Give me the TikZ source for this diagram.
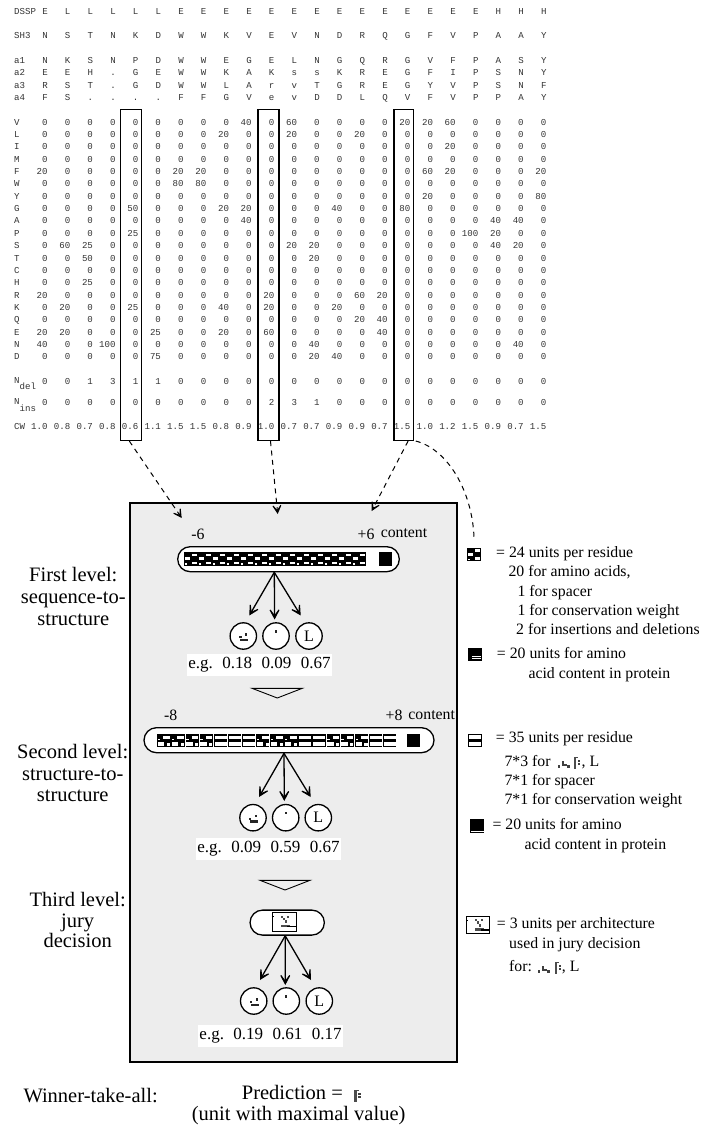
\documentclass[tikz,border=0pt]{standalone}
\usepackage{fontspec}
\setmainfont{Liberation Serif}
\newfontfamily\monof{Liberation Mono}
\usetikzlibrary{arrows.meta,shapes.misc}
\tikzset{
  mono/.style={font=\monof\fontsize{9.1}{10}\selectfont,text=black!80,inner sep=0pt,text height=6.5pt,text depth=2pt},
  lab/.style={font=\fontsize{15.8}{18}\selectfont,inner sep=0pt,anchor=west,text height=11pt,text depth=3.5pt},
  biglab/.style={font=\fontsize{20.5}{23}\selectfont,inner sep=0pt,text height=14pt,text depth=4.5pt},
  egbox/.style={font=\fontsize{17}{20}\selectfont,fill=white,inner sep=0pt,minimum width=145pt,minimum height=21.7pt,text height=11.5pt,text depth=4pt},
  colbox/.style={draw,line width=1.1pt,inner sep=0pt,minimum height=331pt},
  stadium/.style={rounded rectangle,draw,line width=1.3pt,fill=white,inner sep=0pt,minimum height=25pt},
  outcirc/.style={circle,draw,line width=1.3pt,fill=white,inner sep=0pt,minimum size=26.4pt,font=\fontsize{16}{18}\selectfont},
  netarrow/.style={line width=1.3pt,-{Stealth[length=16pt,width=17pt,inset=11.5pt]}},
  dasharrow/.style={line width=1pt,dash pattern=on 5pt off 4.5pt},
  dashhead/.style={-{Stealth[length=14pt,width=15pt,inset=10pt]}},
  pics/cella/.style={code={
    \fill[black] (0,0) rectangle (13.4,13.4);
    \fill[white] (7.5,1.4) rectangle (12.8,4);
    \fill[white] (0.8,5) rectangle (5.8,7.8);
    \fill[white] (7.5,9.4) rectangle (12.8,12);
    \fill[white] (0.8,10.8) rectangle (3,12.4);
  }},
  pics/cellb/.style={code={
    \fill[black] (0,0) rectangle (13.4,13);
    \fill[white] (0.8,1.2) rectangle (12.8,4.6);
    \fill[white] (0.8,7.6) rectangle (12.8,11.6);
  }},
  pics/cellc/.style={code={
    \fill[black] (0,0) rectangle (13.4,13);
    \fill[white] (6,1.2) rectangle (12.8,4.6);
    \fill[white] (0.8,7.6) rectangle (7,11.6);
    \fill[white] (0.8,4.6) rectangle (3,6);
    \fill[white] (9.5,9) rectangle (12.8,11.6);
  }},
  pics/helixin/.style={code={
    \fill[black!85] (-4,-0.2) rectangle (-1.7,2);
    \fill[black!85] (1.8,-2.6) rectangle (3.8,-0.4);
    \fill[black!85] (-3,2.6) rectangle (5,4.8);
  }},
  pics/strandin/.style={code={
    \fill[black!85] (-1.1,-5.6) rectangle (1.1,-3.4);
  }},
  pics/helixsm/.style={code={
    \fill[black!75] (-6,2) rectangle (-3.6,4.6);
    \fill[black!75] (-2.2,-2) rectangle (0.2,3.2);
    \fill[black!75] (0.2,0.6) rectangle (2.8,3.2);
    \fill[black!75] (3,2.4) rectangle (5.6,4.8);
  }},
  pics/strandsm/.style={code={
    \fill[black!70] (-3.2,-6) rectangle (-0.8,6);
    \fill[black!70] (-0.8,-6) rectangle (1,-4.6);
    \fill[black!75] (0.8,-3.5) rectangle (3,-1.3);
    \fill[black!75] (0.8,0) rectangle (3,2.2);
  }},
  pics/juryicon/.style={code={
    \fill[black!70] (9,3.5) rectangle (11,5.5);
    \fill[black!70] (11,5.5) rectangle (13,8);
    \fill[black!70] (15.5,3.5) rectangle (17.5,5.5);
    \fill[black!70] (13,8) rectangle (15,11);
    \fill[black!70] (9,12.5) rectangle (18,15);
    \fill[black] (15,13.5) rectangle (24,15);
    \fill[black] (0,4) rectangle (2,4.8);
  }}
}
\newcommand\srow[3]{%
  \node[mono,anchor=west] (lbl#1) at (14,#2) {#1};
  \foreach \val [count=\ci from 0] in {#3} {
    \node[mono] (s#1-\ci) at ({45+22.67*\ci},#2) {\val};
  }}
\newcommand\mrow[3]{%
  \foreach \val [count=\ci from 0] in {#3} {
    \node[mono,anchor=east] (m#1-\ci) at ({47.8+22.67*\ci},#2) {\val};
  }}
\newcommand\nrow[3]{%
  \node[mono,anchor=west] (lbl#1) at (14,#2) {#1};
  \mrow{#1}{#2}{#3}}
\begin{document}
\begin{tikzpicture}[x=1pt,y=-1pt]
\useasboundingbox (0,0) rectangle (703,1131);
\fill[white] (0,0) rectangle (703,1131);
% sequences
\srow{DSSP}{12}{E,L,L,L,L,L,E,E,E,E,E,E,E,E,E,E,E,E,E,E,H,H,H}
\srow{SH3}{36}{N,S,T,N,K,D,W,W,K,V,E,V,N,D,R,Q,G,F,V,P,A,A,Y}
\srow{a1}{61}{N,K,S,N,P,D,W,W,E,G,E,L,N,G,Q,R,G,V,F,P,A,S,Y}
\srow{a2}{73}{E,E,H,.,G,E,W,W,K,A,K,s,s,K,R,E,G,F,I,P,S,N,Y}
\srow{a3}{86}{R,S,T,.,G,D,W,W,L,A,r,v,T,G,R,E,G,Y,V,P,S,N,F}
\srow{a4}{98}{F,S,.,.,.,.,F,F,G,V,e,v,D,D,L,Q,V,F,V,P,P,A,Y}
% profile
\nrow{V}{123}{0,0,0,0,0,0,0,0,0,40,0,60,0,0,0,0,20,20,60,0,0,0,0}
\nrow{L}{135}{0,0,0,0,0,0,0,0,20,0,0,20,0,0,20,0,0,0,0,0,0,0,0}
\nrow{I}{147}{0,0,0,0,0,0,0,0,0,0,0,0,0,0,0,0,0,0,20,0,0,0,0}
\nrow{M}{160}{0,0,0,0,0,0,0,0,0,0,0,0,0,0,0,0,0,0,0,0,0,0,0}
\nrow{F}{172}{20,0,0,0,0,0,20,20,0,0,0,0,0,0,0,0,0,60,20,0,0,0,20}
\nrow{W}{184}{0,0,0,0,0,0,80,80,0,0,0,0,0,0,0,0,0,0,0,0,0,0,0}
\nrow{Y}{197}{0,0,0,0,0,0,0,0,0,0,0,0,0,0,0,0,0,20,0,0,0,0,80}
\nrow{G}{209}{0,0,0,0,50,0,0,0,20,20,0,0,0,40,0,0,80,0,0,0,0,0,0}
\nrow{A}{221.5}{0,0,0,0,0,0,0,0,0,40,0,0,0,0,0,0,0,0,0,0,40,40,0}
\nrow{P}{234}{0,0,0,0,25,0,0,0,0,0,0,0,0,0,0,0,0,0,0,100,20,0,0}
\nrow{S}{246}{0,60,25,0,0,0,0,0,0,0,0,20,20,0,0,0,0,0,0,0,40,20,0}
\nrow{T}{259}{0,0,50,0,0,0,0,0,0,0,0,0,20,0,0,0,0,0,0,0,0,0,0}
\nrow{C}{271}{0,0,0,0,0,0,0,0,0,0,0,0,0,0,0,0,0,0,0,0,0,0,0}
\nrow{H}{283}{0,0,25,0,0,0,0,0,0,0,0,0,0,0,0,0,0,0,0,0,0,0,0}
\nrow{R}{296}{20,0,0,0,0,0,0,0,0,0,20,0,0,0,60,20,0,0,0,0,0,0,0}
\nrow{K}{308}{0,20,0,0,25,0,0,0,40,0,20,0,0,20,0,0,0,0,0,0,0,0,0}
\nrow{Q}{320}{0,0,0,0,0,0,0,0,0,0,0,0,0,0,20,40,0,0,0,0,0,0,0}
\nrow{E}{333}{20,20,0,0,0,25,0,0,20,0,60,0,0,0,0,40,0,0,0,0,0,0,0}
\nrow{N}{345}{40,0,0,100,0,0,0,0,0,0,0,0,40,0,0,0,0,0,0,0,0,40,0}
\nrow{D}{357}{0,0,0,0,0,75,0,0,0,0,0,0,20,40,0,0,0,0,0,0,0,0,0}
\node[mono,anchor=west] (lblNd) at (14,381) {N};
\node[mono,anchor=west] (lblNdsub) at (19.5,387.5) {del};
\mrow{Nd}{382}{0,0,1,3,1,1,0,0,0,0,0,0,0,0,0,0,0,0,0,0,0,0,0}
\node[mono,anchor=west] (lblNi) at (14,402.5) {N};
\node[mono,anchor=west] (lblNisub) at (19.5,409) {ins};
\mrow{Ni}{403.5}{0,0,0,0,0,0,0,0,0,0,2,3,1,0,0,0,0,0,0,0,0,0,0}
\nrow{CW}{427}{1.0,0.8,0.7,0.8,0.6,1.1,1.5,1.5,0.8,0.9,1.0,0.7,0.7,0.9,0.9,0.7,1.5,1.0,1.2,1.5,0.9,0.7,1.5}
% selected columns
\node[colbox,minimum width=21pt] (box1) at (131.3,275) {};
\node[colbox,minimum width=21pt] (box2) at (268.5,275) {};
\node[colbox,minimum width=19.3pt] (box3) at (403.6,275) {};
% panel
\node[draw,line width=1.1pt,fill=black!7,minimum width=327pt,minimum height=559pt,inner sep=0pt] (panel) at (293.5,782.5) {};
% dashed connectors
\coordinate (tip1) at (181.7,518);
\coordinate (tip2) at (277.7,514);
\coordinate (tip3) at (371.7,511);
\coordinate (legendend) at (474,537);
\draw[dasharrow,dashhead] ([xshift=-2pt]box1.south) -- (tip1);
\draw[dasharrow,dashhead] ([xshift=2pt]box2.south) -- (tip2);
\draw[dasharrow,dashhead] ([xshift=4.5pt]box3.south) -- (tip3);
\draw[dasharrow] ([xshift=2pt]box3.south east) .. controls (447,449) and (472,490) .. (legendend);
% first level
\node[stadium,minimum width=221.6pt] (inp1) at (288.5,559.2) {};
\foreach \i in {0,...,12} \pic at ({184.3+14*\i},552.2) {cella};
\fill[black] (379,552.2) rectangle (391.7,565.5);
\node[lab,anchor=center] (m6) at (198,536) {-6};
\node[lab,anchor=center] (p6) at (366,536) {+6};
\node[lab,anchor=center] (cont1) at (404,534) {content};
\node[outcirc] (c11) at (243.3,636) {};
\node[outcirc] (c12) at (276,636) {};
\node[outcirc] (c13) at (309,636) {L};
\pic at (c11) {helixin};
\pic at (c12) {strandin};
\coordinate (t11) at (249.3,615.5);
\coordinate (t12) at (274.6,619.5);
\coordinate (t13) at (300.7,615.5);
\foreach \t in {t11,t12,t13} \draw[netarrow] ([xshift=-14.2pt]inp1.south) -- (\t);
\node[egbox] (eg1) at (259.4,664.8) {e.g.\hspace{9.5pt}0.18\hspace{9.5pt}0.09\hspace{9.5pt}0.67};
\coordinate (a1) at (252,688.3);
\coordinate (b1) at (302.3,688.3);
\coordinate (v1) at (277.3,698);
\draw[line width=0.9pt] (a1) -- (b1) -- (v1) -- cycle;
\draw[line width=1.4pt] (a1) -- (b1);
% second level
\node[stadium,minimum width=290pt] (inp2) at (289,740.2) {};
\foreach \i/\k in {0/cellc,1/cellc,2/cellc,3/cellc,4/cellb,5/cellb,6/cellb,7/cellc,8/cellc,9/cellc,10/cellb,11/cellb,12/cellc,13/cellc,14/cellc,15/cellb,16/cellb}
  \pic at ({157.3+14.1*\i},734.3) {\k};
\fill[black] (407.3,734.3) rectangle (420,747.3);
\node[lab,anchor=center] (m8) at (170.7,716.7) {-8};
\node[lab,anchor=center] (p8) at (394,716.7) {+8};
\node[lab,anchor=center] (cont2) at (431.7,716) {content};
\node[outcirc] (c21) at (253,817.7) {};
\node[outcirc] (c22) at (285.7,817.7) {};
\node[outcirc] (c23) at (318.3,817.7) {L};
\pic at (c21) {helixin};
\pic at (c22) {strandin};
\coordinate (t21) at (259,797);
\coordinate (t22) at (284.3,801);
\coordinate (t23) at (310.7,797);
\foreach \t in {t21,t22,t23} \draw[netarrow] ([xshift=-5pt]inp2.south) -- (\t);
\node[egbox] (eg2) at (268.5,849) {e.g.\hspace{9.5pt}0.09\hspace{9.5pt}0.59\hspace{9.5pt}0.67};
\coordinate (a2) at (260,880.3);
\coordinate (b2) at (310,880.3);
\coordinate (v2) at (285,890);
\draw[line width=0.9pt] (a2) -- (b2) -- (v2) -- cycle;
\draw[line width=1.4pt] (a2) -- (b2);
% third level
\node[stadium,minimum width=74.3pt] (inp3) at (287.2,922.6) {};
\node[draw,line width=0.9pt,fill=white,minimum width=24.4pt,minimum height=19pt,inner sep=0pt] (jury) at (284.5,922.2) {};
\pic at (jury.north west) {juryicon};
\node[outcirc] (c31) at (253.7,1001) {};
\node[outcirc] (c32) at (286.3,1001) {};
\node[outcirc] (c33) at (319.3,1001) {L};
\pic at (c31) {helixin};
\pic at (c32) {strandin};
\coordinate (t31) at (260,980);
\coordinate (t32) at (285.3,985);
\coordinate (t33) at (311,980);
\foreach \t in {t31,t32,t33} \draw[netarrow] ([xshift=-2pt]inp3.south) -- (\t);
\node[egbox] (eg3) at (270.6,1035.8) {e.g.\hspace{9.5pt}0.19\hspace{9.5pt}0.61\hspace{9.5pt}0.17};
% left labels
\node[biglab] (l11) at (73.3,577) {First level:};
\node[biglab] (l12) at (73.3,599) {sequence-to-};
\node[biglab] (l13) at (73.3,620.7) {structure};
\node[biglab] (l21) at (72.7,754) {Second level:};
\node[biglab] (l22) at (72.7,776) {structure-to-};
\node[biglab] (l23) at (72.7,796.7) {structure};
\node[biglab] (l31) at (77.7,901.3) {Third level:};
\node[biglab] (l32) at (77.7,923) {jury};
\node[biglab] (l33) at (77.7,943) {decision};
% legend 1
\pic at (467.3,548) {cella};
\node[lab] (t1) at (496,554) {= 24 units per residue};
\node[lab] (t2) at (508.3,573) {20 for amino acids,};
\node[lab] (t3) at (517.3,592.7) {1 for spacer};
\node[lab] (t4) at (517.3,612) {1 for conservation weight};
\node[lab] (t5) at (516,631) {2 for insertions and deletions};
\fill[black] (468.3,647.7) rectangle (482,661);
\fill[white] (472,655.5) rectangle (481,656.8);
\fill[white] (472,658) rectangle (481,659.3);
\node[lab] (t6) at (496.7,654.3) {= 20 units for amino};
\node[lab] (t7) at (528.3,674.3) {acid content in protein};
% legend 2
\pic at (468.3,734) {cellb};
\node[lab] (t8) at (495.7,739) {= 35 units per residue};
\node[lab] (t9) at (504.3,762.3) {7*3 for};
\pic at (564,763) {helixsm};
\pic at (576.7,763) {strandsm};
\node[lab] (t10) at (581.5,762.3) {, L};
\node[lab] (t11) at (504.3,781.7) {7*1 for spacer};
\node[lab] (t12) at (504.3,801) {7*1 for conservation weight};
\fill[black] (470,819.3) rectangle (484,832.7);
\fill[white] (471,831) rectangle (483.5,831.8);
\node[lab] (t13) at (492.3,825.7) {= 20 units for amino};
\node[lab] (t14) at (524.3,845.7) {acid content in protein};
% legend 3
\node[draw,line width=0.9pt,fill=white,minimum width=23.4pt,minimum height=17.5pt,inner sep=0pt] (juryleg) at (478,925) {};
\pic at (juryleg.north west) {juryicon};
\node[lab] (t15) at (496.7,925) {= 3 units per architecture};
\node[lab] (t16) at (509,944.3) {used in jury decision};
\node[lab] (t17) at (509,967.7) {for:};
\pic at (544,968) {helixsm};
\pic at (557.7,968) {strandsm};
\node[lab] (t18) at (561.7,967.7) {, L};
% bottom
\node[biglab,anchor=west] (w1) at (23.3,1098) {Winner-take-all:};
\node[biglab,anchor=west] (w2) at (241.7,1095) {Prediction =};
\pic at (357.5,1096) {strandsm};
\node[biglab,anchor=west] (w3) at (191.7,1116) {(unit with maximal value)};
\end{tikzpicture}
\end{document}
